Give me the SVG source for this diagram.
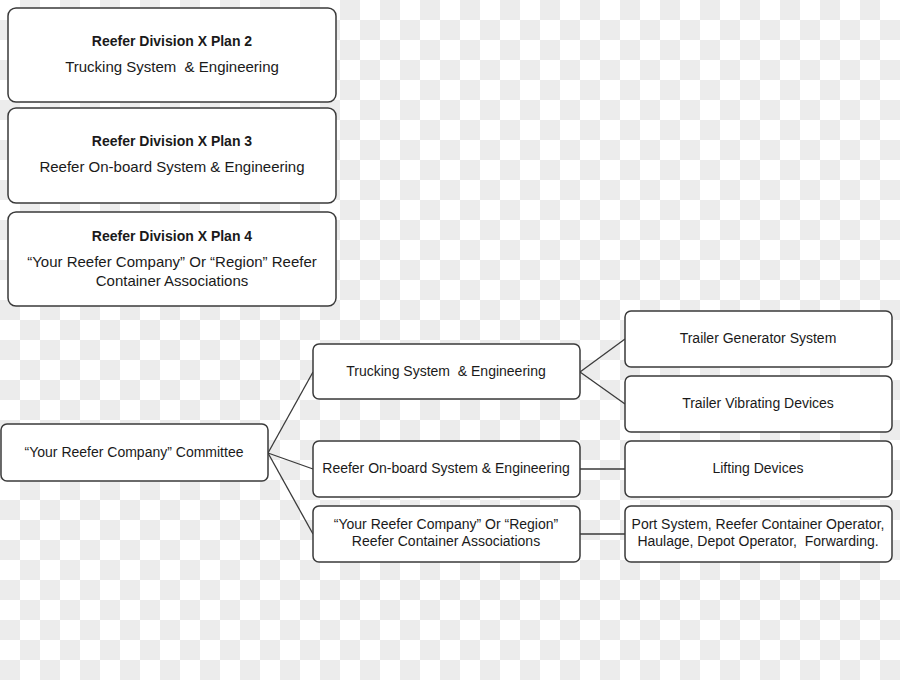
<svg xmlns="http://www.w3.org/2000/svg" width="900" height="680" viewBox="0 0 900 680">
<defs>
<pattern id="chk" x="0" y="0" width="40" height="40" patternUnits="userSpaceOnUse">
<rect width="40" height="40" fill="#ffffff"/>
<rect x="20" y="0" width="20" height="20" fill="#ececec"/>
<rect x="0" y="20" width="20" height="20" fill="#ececec"/>
</pattern>
</defs>
<style>
.box{fill:#ffffff;stroke:#3a3a3a;stroke-width:1.5}
.t{font-family:"Liberation Sans",Arial,sans-serif;font-size:14px;fill:#1a1a1a;text-anchor:middle;white-space:pre}
.s{font-size:15px}
.b{font-weight:bold}
.c{stroke:#3a3a3a;stroke-width:1.3;fill:none}
</style>
<rect width="900" height="680" fill="url(#chk)"/>
<g id="plan2">
<rect class="box" x="8" y="8" width="328" height="94" rx="8"/>
<text class="t b" x="172" y="46">Reefer Division X Plan 2</text>
<text class="t s" x="172" y="72" xml:space="preserve">Trucking System  &amp; Engineering</text>
</g>
<g id="plan3">
<rect class="box" x="8" y="108" width="328" height="95" rx="8"/>
<text class="t b" x="172" y="146">Reefer Division X Plan 3</text>
<text class="t s" x="172" y="172">Reefer On-board System &amp; Engineering</text>
</g>
<g id="plan4">
<rect class="box" x="8" y="212" width="328" height="94" rx="8"/>
<text class="t b" x="172" y="241">Reefer Division X Plan 4</text>
<text class="t s" x="172" y="267">“Your Reefer Company” Or “Region” Reefer</text>
<text class="t s" x="172" y="286">Container Associations</text>
</g>
<g id="connectors">
<line class="c" x1="268" y1="453" x2="313" y2="372"/>
<line class="c" x1="268" y1="453" x2="313" y2="469"/>
<line class="c" x1="268" y1="453" x2="313" y2="534"/>
<line class="c" x1="580" y1="372" x2="625" y2="339"/>
<line class="c" x1="580" y1="372" x2="625" y2="404"/>
<line class="c" x1="580" y1="469" x2="625" y2="469"/>
<line class="c" x1="580" y1="534" x2="625" y2="534"/>
</g>
<g id="committee">
<rect class="box" x="1" y="424" width="267" height="57" rx="6"/>
<text class="t" x="134" y="457">“Your Reefer Company” Committee</text>
</g>
<g id="trucking">
<rect class="box" x="313" y="344" width="267" height="55" rx="6"/>
<text class="t" x="446" y="376" xml:space="preserve">Trucking System  &amp; Engineering</text>
</g>
<g id="onboard">
<rect class="box" x="313" y="441" width="267" height="56" rx="6"/>
<text class="t" x="446" y="473">Reefer On-board System &amp; Engineering</text>
</g>
<g id="assoc">
<rect class="box" x="313" y="506" width="267" height="56" rx="6"/>
<text class="t" x="446" y="529">“Your Reefer Company” Or “Region”</text>
<text class="t" x="446" y="546">Reefer Container Associations</text>
</g>
<g id="generator">
<rect class="box" x="625" y="311" width="267" height="56" rx="6"/>
<text class="t" x="758" y="343">Trailer Generator System</text>
</g>
<g id="vibrating">
<rect class="box" x="625" y="376" width="267" height="56" rx="6"/>
<text class="t" x="758" y="408">Trailer Vibrating Devices</text>
</g>
<g id="lifting">
<rect class="box" x="625" y="441" width="267" height="56" rx="6"/>
<text class="t" x="758" y="473">Lifting Devices</text>
</g>
<g id="port">
<rect class="box" x="625" y="506" width="267" height="56" rx="6"/>
<text class="t" x="758" y="529">Port System, Reefer Container Operator,</text>
<text class="t" x="758" y="546" xml:space="preserve">Haulage, Depot Operator,  Forwarding.</text>
</g>
</svg>
